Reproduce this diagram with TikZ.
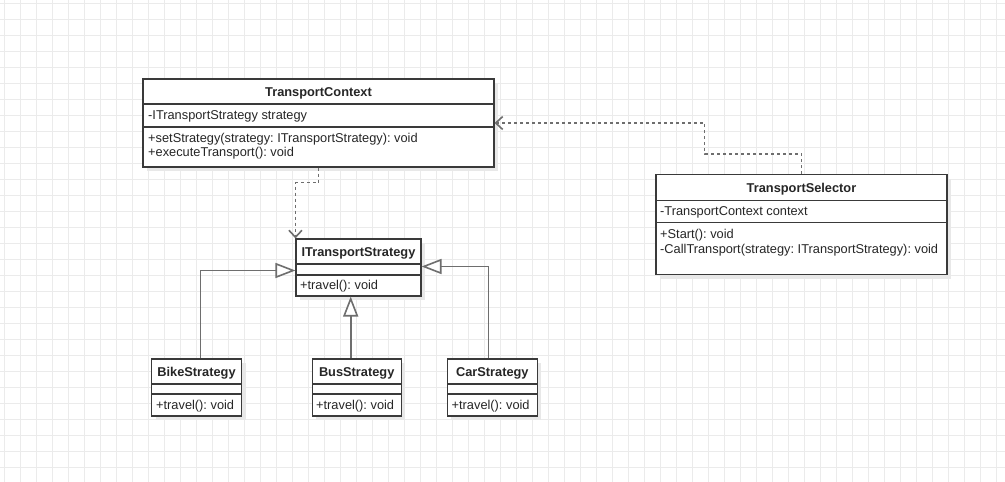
\documentclass[tikz,border=0pt]{standalone}
\usepackage{fontspec}
\setmainfont{Liberation Sans}
\usetikzlibrary{arrows.meta,shadows}

\definecolor{gridgray}{HTML}{EBEBEB}
\definecolor{boxline}{HTML}{3A3A3A}
\definecolor{edgegray}{HTML}{6E6E6E}
\definecolor{shadowgray}{HTML}{E8E8E8}

\tikzset{
  classbox/.style={draw=boxline, line width=1.1pt, fill=white, inner sep=0pt,
    drop shadow={shadow xshift=4pt, shadow yshift=-4pt, fill=shadowgray, opacity=1}},
  classname/.style={font=\fontsize{12.8}{15}\selectfont\bfseries, text=black!85,
    inner sep=0pt, anchor=mid},
  member/.style={font=\fontsize{12.8}{15}\selectfont, text=black!85,
    inner sep=0pt, anchor=mid west},
  sepline/.style={draw=boxline, line width=1.1pt},
  gridline/.style={draw=gridgray, line width=0.8pt},
  inherit/.style={draw=edgegray, line width=1.6pt,
    -{Triangle[open, length=20pt, width=15pt, fill=white]}},
  depend/.style={draw=edgegray, line width=1.6pt, dash pattern=on 3pt off 3pt,
    -{Straight Barb[length=7pt, width=13pt]}}
}

\begin{document}
\frenchspacing
\begin{tikzpicture}[x=1pt, y=-1pt]
        \useasboundingbox (0,0) rectangle (1005,482);
        \fill[white] (0,0) rectangle (1005,482);

        % background grid
        \foreach \gx in {4,20,...,1004} \draw[gridline] (\gx,0) -- (\gx,482);
        \foreach \gy in {3,19,...,481} \draw[gridline] (0,\gy) -- (1005,\gy);

        % TransportContext
        \draw (318.5,123) node[classbox, minimum width=351pt, minimum height=88pt] (tc) {};
        \draw (318.5,93.5) node[classname] (tcname) {TransportContext};
        \draw[sepline] (143,104) -- (494,104);
        \draw (148,117) node[member] (tcattr) {-ITransportStrategy strategy};
        \draw[sepline] (143,127) -- (494,127);
        \draw (148,140) node[member] (tcop1) {+setStrategy(strategy: ITransportStrategy): void};
        \draw (148,154) node[member] (tcop2) {+executeTransport(): void};

        % ITransportStrategy
        \draw (358.5,267.5) node[classbox, minimum width=125pt, minimum height=57pt] (its) {};
        \draw (358.5,254) node[classname] (itsname) {ITransportStrategy};
        \draw[sepline] (296,264) -- (421,264);
        \draw[sepline] (296,275) -- (421,275);
        \draw (300,287) node[member] (itsop) {+travel(): void};

        % TransportSelector
        \draw (801.5,224.7) node[classbox, minimum width=291pt, minimum height=100pt] (sel) {};
        \draw (801.5,190) node[classname] (selname) {TransportSelector};
        \draw[sepline] (656,200.7) -- (947,200.7);
        \draw (660,212.5) node[member] (selattr) {-TransportContext context};
        \draw[sepline] (656,222.7) -- (947,222.7);
        \draw (660,235.5) node[member] (selop1) {+Start(): void};
        \draw (660,250.5) node[member] (selop2) {-CallTransport(strategy: ITransportStrategy): void};

        % BikeStrategy
        \draw (196.5,387.5) node[classbox, minimum width=90pt, minimum height=57pt] (bike) {};
        \draw (196.5,374) node[classname] (bikename) {BikeStrategy};
        \draw[sepline] (151.5,384) -- (241.5,384);
        \draw[sepline] (151.5,394) -- (241.5,394);
        \draw (156,406.5) node[member] (bikeop) {+travel(): void};

        % BusStrategy
        \draw (356.7,387.5) node[classbox, minimum width=89pt, minimum height=57pt] (bus) {};
        \draw (356.7,374) node[classname] (busname) {BusStrategy};
        \draw[sepline] (312.2,384) -- (401.2,384);
        \draw[sepline] (312.2,394) -- (401.2,394);
        \draw (316,406.5) node[member] (busop) {+travel(): void};

        % CarStrategy
        \draw (492.3,387.5) node[classbox, minimum width=90pt, minimum height=57pt] (car) {};
        \draw (492.3,374) node[classname] (carname) {CarStrategy};
        \draw[sepline] (447.3,384) -- (537.3,384);
        \draw[sepline] (447.3,394) -- (537.3,394);
        \draw (451.5,406.5) node[member] (carop) {+travel(): void};

        % realisation
        \draw[inherit] ([xshift=4pt]bike.north) |- ([yshift=-3pt]its.west);
        \draw[inherit] ([xshift=-6pt]bus.north) -- ([xshift=-6pt]bus.north |- its.south);
        \draw[inherit] ([xshift=-4pt]car.north) |- ([yshift=1pt]its.east);

        % dependencies
        \draw[depend] (tc.south) -- ++(0,15) -| (its.north west);
        \draw[depend] (sel.north) -- ++(0,-20) -| ([xshift=210pt]tc.east) -- (tc.east);
\end{tikzpicture}
\end{document}
